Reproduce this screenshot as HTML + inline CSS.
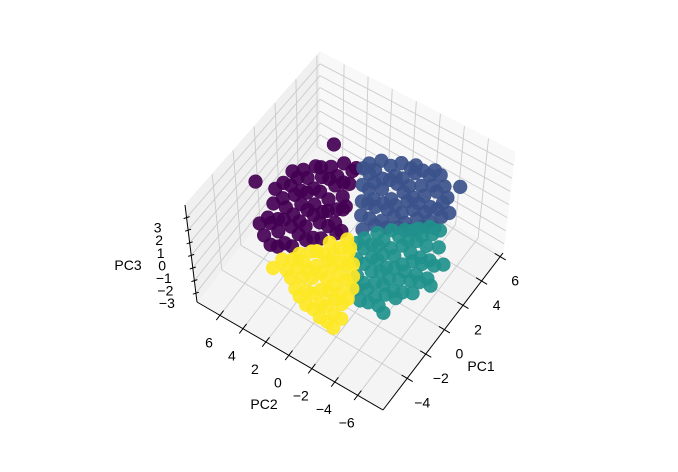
<!DOCTYPE html>
<html><head><meta charset="utf-8"><style>
html,body{margin:0;padding:0;background:#fff;}
svg{display:block;font-family:"Liberation Sans","DejaVu Sans",sans-serif;}
</style></head><body>
<svg id="chart" width="678" height="472" viewBox="0 0 678 472" xmlns="http://www.w3.org/2000/svg">
<rect width="678" height="472" fill="#fff"/>
<g id="panes"></g>
<g id="grid"></g>
<g id="axes"></g>
<g id="points"></g>
<g id="labels"></g>
</svg>
<script>
const pc1Ticks = [-4,-2,0,2,4,6];
const pc2Ticks = [-6,-4,-2,0,2,4,6];
const pc3Ticks = [-3,-2,-1,0,1,2,3];
const clusterColors = ['#440154','#3b528b','#21918c','#fde725'];
const clusterNames = ['cluster-0','cluster-1','cluster-2','cluster-3'];
const cluster0 = [[-0.9,0.5,0.1],[-0.4,0.5,-0.2],
[-1.6,1.2,0],[-0.9,1.2,0.3],[-0.2,1.2,-0.1],[0.6,1.2,0.2],[1.0,1.3,0],
[-2.3,1.9,0.2],[-1.6,1.9,-0.3],[-0.8,2.0,0.1],[-0.1,1.9,0.4],[0.7,1.8,-0.2],[1.4,1.9,0.1],[2.2,2.0,0.3],
[-2.9,2.6,-0.1],[-2.2,2.6,0.2],[-1.4,2.7,0],[-0.7,2.6,0.3],[0.1,2.5,-0.2],[0.8,2.6,0.1],[1.6,2.7,0.4],[2.3,2.6,0],[3.1,2.5,0.2],[3.6,2.6,-0.1],
[-3.5,3.3,0.1],[-2.8,3.3,-0.3],[-2.0,3.4,0.2],[-1.3,3.3,0],[-0.6,3.2,0.3],[0.2,3.3,-0.1],[0.9,3.4,0.2],[1.7,3.3,0.5],[2.4,3.2,0.1],[3.2,3.3,0.3],
[-3.4,4.0,-0.2],[-2.6,4.0,0.1],[-1.9,4.1,0.3],[-1.1,4.0,0],[-0.4,3.9,0.2],[0.3,4.0,0.4],[1.1,4.1,-0.1],[1.8,4.0,0.2],[2.6,3.9,0.3],
[-3.2,4.7,0],[-2.5,4.7,0.3],[-1.7,4.8,-0.2],[-1.0,4.7,0.1],[-0.2,4.6,0.4],[0.5,4.7,0],[1.3,4.8,0.2],[2.0,4.7,0.5],[2.4,4.6,0.1],
[-2.8,5.4,0.2],[-2.0,5.4,-0.1],[-1.3,5.5,0.3],[-0.5,5.4,0],[0.2,5.3,0.4],[1.0,5.4,0.2],[1.7,5.5,0.1],
[-0.4,6.1,0.3],[0.4,6.1,0],[1.2,6.0,0.2],
[1.6,2.8,3.6],[-0.4,7.8,0]];
const cluster1 = [[3.6,2.0,0.2],[4.2,2.0,0],
[2.7,1.3,0.1],[3.4,1.3,0.3],[4.1,1.4,-0.1],[4.6,1.3,0.2],
[1.8,0.6,0],[2.5,0.6,0.3],[3.2,0.7,0.1],[3.9,0.6,-0.2],[4.6,0.5,0.2],
[0.9,-0.1,0.1],[1.6,-0.1,0.4],[2.3,0,0],[3.0,-0.1,0.2],[3.7,-0.2,0.3],[4.4,-0.1,-0.1],[5.1,0,0.2],
[0.2,-0.8,0],[0.9,-0.8,0.2],[1.6,-0.7,0.4],[2.3,-0.8,0.1],[3.0,-0.9,-0.2],[3.7,-0.8,0.3],[4.4,-0.7,0],[5.1,-0.8,0.2],[5.5,-0.9,0.1],
[0.6,-1.5,0.3],[1.3,-1.5,0],[2.0,-1.4,0.2],[2.7,-1.5,-0.1],[3.4,-1.6,0.3],[4.1,-1.5,0.1],[4.8,-1.4,0.4],[5.5,-1.5,0],
[1.0,-2.2,0.1],[1.7,-2.2,0.3],[2.4,-2.3,0],[3.1,-2.2,0.2],[3.8,-2.1,-0.2],[4.5,-2.2,0.1],[5.2,-2.3,0.3],[5.9,-2.2,0],
[1.3,-2.9,0.2],[2.0,-2.9,-0.1],[2.7,-3.0,0.3],[3.4,-2.9,0.1],[4.1,-2.8,0],[4.8,-2.9,0.2],[5.5,-3.0,0.4],
[1.7,-3.6,0],[2.4,-3.6,0.2],[3.1,-3.7,0.1],[3.8,-3.6,-0.2],[4.5,-3.5,0.3],[5.2,-3.6,0.1],
[2.1,-4.3,0.2],[2.8,-4.3,0],[3.5,-4.4,0.3],[4.2,-4.3,0.1],[4.8,-4.2,-0.1],
[2.5,-5.0,0.1],[3.2,-5.0,0.3],[3.9,-5.1,0],[5.6,-4.6,0.2]];
const cluster2 = [[-0.8,-1.2,0.1],[-0.1,-1.2,-0.2],
[-1.7,-1.9,0],[-1.0,-1.9,0.2],[-0.3,-2.0,-0.1],[0.4,-1.9,0.1],
[-2.5,-2.6,-0.2],[-1.8,-2.6,0.1],[-1.1,-2.7,0],[-0.4,-2.6,0.2],[0.3,-2.5,-0.1],[1.0,-2.6,0.1],
[-3.4,-3.3,0],[-2.7,-3.3,-0.2],[-2.0,-3.4,0.1],[-1.3,-3.3,0.3],[-0.6,-3.2,0],[0.1,-3.3,-0.1],[0.8,-3.4,0.2],[1.5,-3.3,0],
[-3.9,-4.0,-0.1],[-3.2,-4.0,0.1],[-2.5,-4.1,0],[-1.8,-4.0,0.2],[-1.1,-3.9,-0.2],[-0.4,-4.0,0.1],[0.3,-4.1,0.3],[1.0,-4.0,0],[1.7,-3.9,0.1],[2.1,-4.0,-0.1],
[-3.9,-4.7,0.1],[-3.2,-4.7,-0.1],[-2.5,-4.8,0.2],[-1.8,-4.7,0],[-1.1,-4.6,0.1],[-0.4,-4.7,-0.2],[0.3,-4.8,0.1],[1.0,-4.7,0.3],[1.7,-4.6,0],[2.4,-4.7,0.1],
[-3.7,-5.4,0],[-3.0,-5.4,0.2],[-2.3,-5.5,-0.1],[-1.6,-5.4,0.1],[-0.9,-5.3,0],[-0.2,-5.4,0.2],[0.5,-5.5,-0.1],[1.2,-5.4,0.1],[1.9,-5.3,0.3],[2.6,-5.4,0],
[-2.8,-6.1,0.1],[-2.1,-6.1,-0.1],[-1.4,-6.2,0.2],[-0.7,-6.1,0],[0,-6.0,0.1],[0.7,-6.1,-0.2],[1.5,-6.2,0.1],
[-1.9,-6.8,0],[-1.2,-6.8,0.2],[-0.5,-6.9,-0.1],[0.3,-6.8,0.1],
[-0.9,-7.5,0],[0.65,-7.3,0.1],[-3.8,-5.9,-0.2]];
const cluster3 = [[-4.1,2.4,0.1],
[-4.5,1.7,0],[-3.8,1.7,0.2],[-3.1,1.8,-0.1],
[-4.9,1.0,0.1],[-4.2,1.0,0.3],[-3.5,1.1,0],[-2.8,1.0,0.2],[-2.4,0.9,-0.1],
[-5.3,0.3,0],[-4.6,0.3,0.2],[-3.9,0.4,0.1],[-3.2,0.3,-0.2],[-2.5,0.2,0.1],[-1.8,0.3,0.3],
[-5.7,-0.4,0.1],[-5.0,-0.4,-0.1],[-4.3,-0.3,0.2],[-3.6,-0.4,0],[-2.9,-0.5,0.3],[-2.2,-0.4,0.1],[-1.5,-0.3,-0.1],[-1.0,-0.5,0.2],
[-5.9,-1.1,0],[-5.2,-1.1,0.2],[-4.5,-1.2,-0.1],[-3.8,-1.1,0.1],[-3.1,-1.0,0.3],[-2.4,-1.1,0],[-1.7,-1.2,0.2],[-1.3,-1.0,0.1],
[-6.0,-1.8,0.1],[-5.3,-1.8,-0.1],[-4.6,-1.9,0.2],[-3.9,-1.8,0],[-3.2,-1.7,0.1],[-2.5,-1.8,0.3],[-2.1,-1.9,0],
[-6.2,-2.5,0],[-5.5,-2.5,0.2],[-4.8,-2.6,0.1],[-4.1,-2.5,-0.1],[-3.4,-2.4,0.2],[-2.8,-2.5,0],
[-6.3,-3.2,0.1],[-5.6,-3.2,0],[-4.9,-3.3,0.2],[-4.2,-3.2,-0.1],[-3.6,-3.1,0.1],
[-6.4,-3.8,0],[-5.7,-3.9,0.1],[-4.8,2.6,0]];
const clusters = [cluster0, cluster1, cluster2, cluster3];

const XMIN=-6.6, XMAX=6.3, YMIN=-8.2, YMAX=8.0, ZMIN=-3.7, ZMAX=4.0;
const FB=[383,410],FR=[503,253],FL=[197,302],FK=[320,143];
const TB=[384,302],TR=[515,152],TL=[185,205],TK=[320,52];
function bil(a,b,c,d,f,g){return [a[0]*(1-f)*(1-g)+b[0]*f*(1-g)+c[0]*(1-f)*g+d[0]*f*g, a[1]*(1-f)*(1-g)+b[1]*f*(1-g)+c[1]*(1-f)*g+d[1]*f*g];}
function proj(x,y,z){
  const f=(x-XMIN)/(XMAX-XMIN), g=(y-YMIN)/(YMAX-YMIN), t=(z-ZMIN)/(ZMAX-ZMIN);
  const lo=bil(FB,FR,FL,FK,f,g), hi=bil(TB,TR,TL,TK,f,g);
  return [lo[0]*(1-t)+hi[0]*t, lo[1]*(1-t)+hi[1]*t];
}
const NS='http://www.w3.org/2000/svg';
function mk(tag,parent,attrs){const e=document.createElementNS(NS,tag);for(const k in attrs)e.setAttribute(k,attrs[k]);parent.appendChild(e);return e;}
function poly(pts){return pts.map(p=>p[0].toFixed(1)+','+p[1].toFixed(1)).join(' ');}
function line(parent,a,b,stroke,w){return mk('line',parent,{x1:a[0].toFixed(1),y1:a[1].toFixed(1),x2:b[0].toFixed(1),y2:b[1].toFixed(1),stroke:stroke,'stroke-width':w});}

const panes=document.getElementById('panes');
let p;
p=mk('polygon',panes,{points:poly([proj(XMIN,YMIN,ZMIN),proj(XMAX,YMIN,ZMIN),proj(XMAX,YMAX,ZMIN),proj(XMIN,YMAX,ZMIN)]),fill:'#f4f4f4',stroke:'#f4f4f4'});


p=mk('polygon',panes,{points:poly([proj(XMIN,YMAX,ZMIN),proj(XMAX,YMAX,ZMIN),proj(XMAX,YMAX,ZMAX),proj(XMIN,YMAX,ZMAX)]),fill:'#f0f0f0',stroke:'#f0f0f0'});


p=mk('polygon',panes,{points:poly([proj(XMAX,YMIN,ZMIN),proj(XMAX,YMAX,ZMIN),proj(XMAX,YMAX,ZMAX),proj(XMAX,YMIN,ZMAX)]),fill:'#f8f8f8',stroke:'#f8f8f8'});



const grid=document.getElementById('grid');
const GC='#cbcbcb';
pc1Ticks.forEach(v=>{
  let l=line(grid,proj(v,YMIN,ZMIN),proj(v,YMAX,ZMIN),GC,0.9);
  
  
  l=line(grid,proj(v,YMAX,ZMIN),proj(v,YMAX,ZMAX),GC,0.9);
  
  
});
pc2Ticks.forEach(v=>{
  let l=line(grid,proj(XMIN,v,ZMIN),proj(XMAX,v,ZMIN),GC,0.9);
  
  
  l=line(grid,proj(XMAX,v,ZMIN),proj(XMAX,v,ZMAX),GC,0.9);
  
  
});
pc3Ticks.forEach(v=>{
  let l=line(grid,proj(XMIN,YMAX,v),proj(XMAX,YMAX,v),GC,0.9);
  
  
  l=line(grid,proj(XMAX,YMAX,v),proj(XMAX,YMIN,v),GC,0.9);
  
  
});

const axes=document.getElementById('axes');
let a;
a=line(axes,proj(XMIN,YMIN,ZMIN),proj(XMAX,YMIN,ZMIN),'#000',1);


a=line(axes,proj(XMIN,YMIN,ZMIN),proj(XMIN,YMAX,ZMIN),'#000',1);


a=line(axes,proj(XMIN,YMAX,ZMIN),proj(XMIN,YMAX,ZMAX),'#000',1);



const labels=document.getElementById('labels');
function txt(x,y,s,name,anchor){const t=mk('text',labels,{x:x.toFixed(1),y:y.toFixed(1),'font-size':'14','fill':'#000','text-anchor':anchor||'middle','dominant-baseline':'central'});t.textContent=s;return t;}
function fmt(v){return v<0?'\u2212'+Math.abs(v):String(v);}
pc1Ticks.forEach(v=>{
  const q=proj(v,YMIN,ZMIN), r=proj(v,YMIN+0.03*(YMAX-YMIN),ZMIN);
  const dx=q[0]-r[0], dy=q[1]-r[1];
  const t=line(axes,[q[0]-dx,q[1]-dy],[q[0]+dx,q[1]+dy],'#000',1);
  
  
  txt(q[0]+15,q[1]+24,fmt(v),'pc1-tick-label');
});
pc2Ticks.forEach(v=>{
  const q=proj(XMIN,v,ZMIN), r=proj(XMIN+0.03*(XMAX-XMIN),v,ZMIN);
  const dx=q[0]-r[0], dy=q[1]-r[1];
  const t=line(axes,[q[0]-dx,q[1]-dy],[q[0]+dx,q[1]+dy],'#000',1);
  
  
  txt(q[0]-11,q[1]+27,fmt(v),'pc2-tick-label');
});
pc3Ticks.forEach(v=>{
  const q=proj(XMIN,YMAX,v);
  const t=line(axes,[q[0]-3,q[1]+1],[q[0]+3,q[1]-1],'#000',1);
  
  
  txt(q[0]-29,q[1]+10,fmt(v),'pc3-tick-label');
});
txt(481,366,'PC1','pc1-axis-title');
txt(264,404,'PC2','pc2-axis-title');
txt(128,265,'PC3','pc3-axis-title');

const pts=document.getElementById('points');
clusters.forEach((arr,ci)=>{
  const g=mk('g',pts,{});
  
  
  arr.forEach(d=>{
    const q=proj(d[0],d[1],d[2]);
    const c=mk('circle',g,{cx:q[0].toFixed(1),cy:q[1].toFixed(1),r:6.8,fill:clusterColors[ci],'fill-opacity':0.92,stroke:clusterColors[ci],'stroke-opacity':0.92,'stroke-width':0.6});
    
    
  });
});
</script>
</body></html>
